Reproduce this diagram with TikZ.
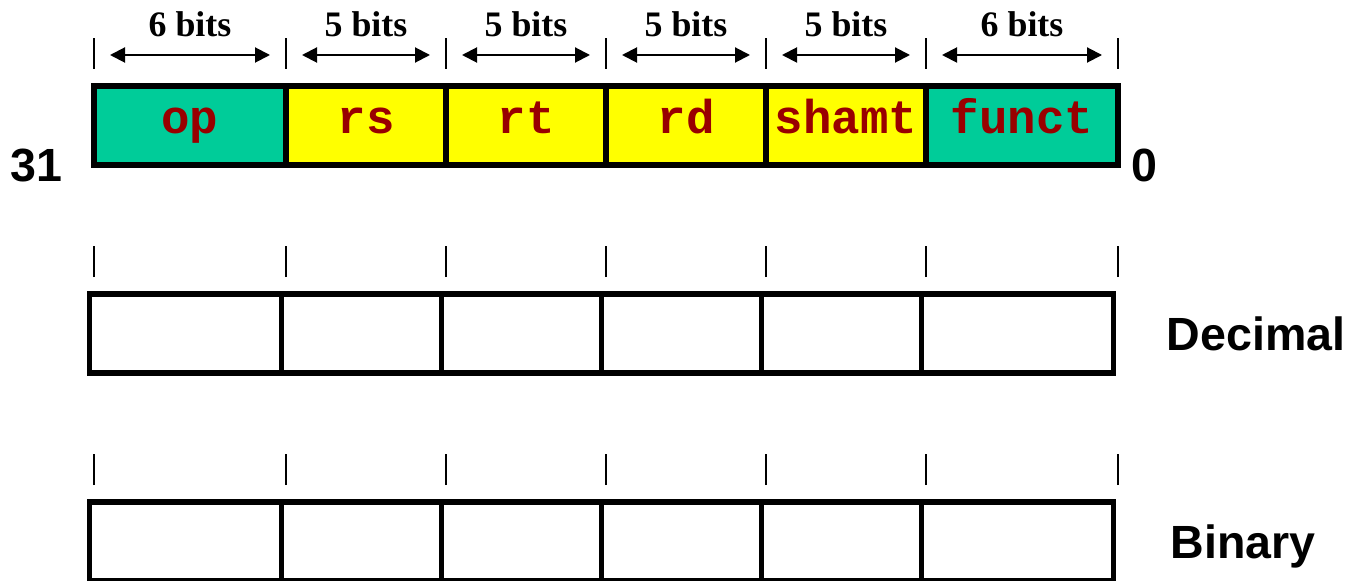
\documentclass[tikz,border=0pt]{standalone}
\usepackage{fontspec}
\setmainfont{Liberation Serif}
\setsansfont{Liberation Sans}
\newfontfamily\codefont{Liberation Mono}
\usepackage{tikz}
\usetikzlibrary{positioning,arrows.meta}
\definecolor{opgreen}{RGB}{0,204,153}
\definecolor{regyellow}{RGB}{255,255,0}
\definecolor{fieldred}{RGB}{153,0,0}

\begin{document}
\begin{tikzpicture}[field/.style = {draw, line width=0.114cm, outer sep=0pt, inner sep=0pt,
            minimum width=3.2cm, minimum height=1.58cm, text=fieldred,
            font=\codefont\bfseries\fontsize{27}{27}\selectfont, text height=0.95em, text depth=0.05em},
        wide/.style = {minimum width=3.84cm},
        tick/.style = {line width=0.05cm},
        size/.style = {line width=0.04cm, {Triangle[length=0.3cm,width=0.3cm]}-{Triangle[length=0.3cm,width=0.3cm]},
            shorten <=0.32cm, shorten >=0.32cm},
        bits/.style = {font=\bfseries\fontsize{20.4}{20.4}\selectfont, anchor=base, yshift=0.36cm},
        lbl/.style = {font=\sffamily\bfseries\fontsize{26.5}{26.5}\selectfont, inner sep=0pt, text depth=0pt}]
        \useasboundingbox (0,0) rectangle (27.06,11.6);
        % R-format fields
        \node[field, wide, fill=opgreen] (op) at (3.8,9.09) {op};
        \node[field, fill=regyellow] (rs) [right=0pt of op] {rs};
        \node[field, fill=regyellow] (rt) [right=0pt of rs] {rt};
        \node[field, fill=regyellow] (rd) [right=0pt of rt] {rd};
        \node[field, fill=regyellow] (shamt) [right=0pt of rd] {shamt};
        \node[field, wide, fill=opgreen] (funct) [right=0pt of shamt] {funct};
        \node[lbl] (msb) [left=0.62cm of op.south west] {31};
        \node[lbl] (lsb) [right=0.26cm of funct.south east] {0};
        % field sizes
        \draw[size] ([yshift=0.62cm]op.north west) -- node[bits] {6 bits} ([yshift=0.62cm]op.north east);
        \draw[size] ([yshift=0.62cm]rs.north west) -- node[bits] {5 bits} ([yshift=0.62cm]rs.north east);
        \draw[size] ([yshift=0.62cm]rt.north west) -- node[bits] {5 bits} ([yshift=0.62cm]rt.north east);
        \draw[size] ([yshift=0.62cm]rd.north west) -- node[bits] {5 bits} ([yshift=0.62cm]rd.north east);
        \draw[size] ([yshift=0.62cm]shamt.north west) -- node[bits] {5 bits} ([yshift=0.62cm]shamt.north east);
        \draw[size] ([yshift=0.62cm]funct.north west) -- node[bits] {6 bits} ([yshift=0.62cm]funct.north east);
        % empty rows to fill in
        \node[field, wide] (dop) at (3.71,4.93) {};
        \node[field] (drs) [right=0pt of dop] {};
        \node[field] (drt) [right=0pt of drs] {};
        \node[field] (drd) [right=0pt of drt] {};
        \node[field] (dshamt) [right=0pt of drd] {};
        \node[field, wide] (dfunct) [right=0pt of dshamt] {};
        \node[lbl] (dec) [right=1.06cm of dfunct] {Decimal};
        \node[field, wide] (bop) at (3.71,0.77) {};
        \node[field] (brs) [right=0pt of bop] {};
        \node[field] (brt) [right=0pt of brs] {};
        \node[field] (brd) [right=0pt of brt] {};
        \node[field] (bshamt) [right=0pt of brd] {};
        \node[field, wide] (bfunct) [right=0pt of bshamt] {};
        \node[lbl] (bin) [right=1.14cm of bfunct] {Binary};
        % boundary ticks, lined up with the top row
        \foreach \row in {,d,b} {
            \foreach \f in {op,rs,rt,rd,shamt,funct}
                \draw[tick] (\f.west |- \row\f.north) ++(0,0.34) -- ++(0,0.62);
            \draw[tick] (funct.east |- \row funct.north) ++(0,0.34) -- ++(0,0.62);
        }
\end{tikzpicture}
\end{document}
